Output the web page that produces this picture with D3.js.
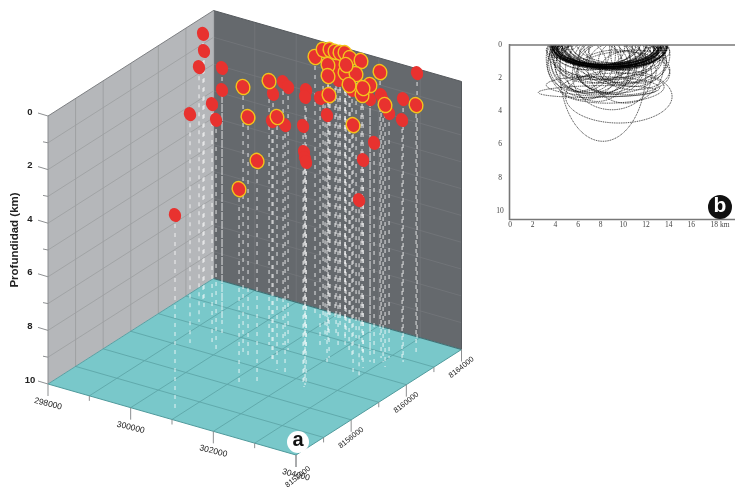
<!DOCTYPE html>
<html><head><meta charset="utf-8">
<script src="https://cdnjs.cloudflare.com/ajax/libs/d3/7.8.5/d3.min.js"></script>
<style>html,body{margin:0;padding:0;background:#fff}svg{display:block;filter:blur(.3px)}</style>
</head><body><svg id="c" width="738" height="489"></svg>
<script>
const eastTicks=[298000,299000,300000,301000,302000,303000,304000];
const eastLabels=["298000","300000","302000","304000"];
const northTicks=[8152000,8154000,8156000,8158000,8160000,8162000,8164000];
const northLabels=["8152000","8156000","8160000","8164000"];
const depthTicks=[0,1,2,3,4,5,6,7,8,9,10];
const depthLabels=["0","2","4","6","8","10"];
const evEast=[298389,298719,298898,299570,299177,299718,299297,299968,300854,300419,300659,300670,301129,300904,301118,301457,301165,301775,301438,301216,301419,301611,302338,302354,302318,302257,301573,301474,302012,302109,302911,303025,302842,303011,300730,302261,303010,303439,303353,303336,302880,303019,303183,303014,300812,300928,301064,301174,301284,301498,301734,301262,301524,301755,301939,302137,302615,302487,302423,301331,301939,302317,301822,302801,301474,301563];
const evNorth=[8162076,8161156,8160259,8159913,8161090,8158746,8158409,8158287,8152656,8158894,8158535,8160027,8158940,8160341,8160062,8158245,8158760,8157874,8156853,8156214,8160466,8159816,8157495,8157517,8157697,8157954,8161016,8161678,8160355,8159917,8159402,8160581,8160334,8159537,8163179,8163306,8163745,8162388,8161704,8161681,8161524,8161254,8160906,8161703,8163516,8163674,8163629,8163663,8163697,8163417,8163507,8162530,8161746,8162285,8162532,8161432,8160940,8161904,8161590,8163192,8161735,8161107,8161577,8160962,8162474,8162934];
const evDepth=[.07,.26,.49,.11,1.49,1.01,1.46,1.34,2.65,.11,1.01,.15,.07,.19,.19,.56,1.01,.6,1.75,2.69,.3,.26,.26,1.23,1.53,1.79,.71,.9,.19,.75,.6,1.6,2.24,3.4,.26,.19,.04,.6,.19,.97,.19,.22,.22,.86,.07,.07,.07,.07,.04,.04,.07,.11,.15,.11,.15,.11,.11,.11,.15,.11,.11,.11,.11,.19,.11,.11];
const evRing=[0,0,0,0,0,0,0,0,0,1,1,1,0,0,0,1,0,0,1,1,0,0,0,0,0,0,0,0,1,0,1,0,0,0,1,1,0,1,0,0,0,0,1,0,1,1,1,1,1,1,1,1,1,1,1,1,1,1,1,0,0,0,0,0,0,1];
const bTicksX=[0,2,4,6,8,10,12,14,16];
const bTicksY=[0,2,4,6,8,10];
const ellCx=[8.2,7.7,9.6,6.5,9.0,8.5,8.7,8.2,8.9,9.3,7.9,8.4,8.6,9.1,8.0,8.8,8.3,9.4,7.6,8.5,8.9,7.8,9.2,8.6,8.1,8.7,9.0,7.4,8.3,9.6,7.2,10.0,6.9,10.3,7.6,8.3,9.1,7.2,9.8,8.4,6.6,9.6,7.8,8.7,7.0,10.4,8.9,7.5,9.4,6.4,10.8,8.2,9.0,7.7,10.0,8.5,6.2,11.0,8.9,8.6,9.0,8.4,8.8,9.2,8.5,8.7,9.1,8.3,9.0,8.6,8.8,8.2,9.3,8.7,8.9,8.5,9.0,8.4,8.6,8.8,7.0,10.2,5.9,11.5,8.0,9.5];
const ellCy=[1.5,2.8,3.1,0.8,1.8,-.2,-.3,-.1,.0,-.4,-.2,.1,-.1,-.3,.0,.1,-.4,.0,-.1,.2,-.2,-.3,.1,.0,.2,-.1,.3,.0,-.2,-.1,.1,.0,.2,.1,.5,.7,.6,.8,.7,.9,1.0,.9,1.2,1.1,1.3,1.0,1.4,1.0,1.6,.6,1.0,2.5,2.6,1.5,1.7,.5,.3,1.5,.1,.0,.2,.1,.2,.0,.3,.1,.3,.0,.1,.2,.0,.3,.1,.4,.3,.4,.2,.4,.3,.5,1.0,1.1,1.2,.6,.3,.4];
const ellRx=[3.8,5.2,4.7,3.3,3.5,4.6,4.4,4.2,4.5,4.1,4.3,4.4,4.8,4.3,4.0,4.6,3.9,4.0,3.9,4.2,4.4,3.8,4.1,4.7,4.3,3.6,4.0,3.7,3.8,3.7,3.6,3.5,3.2,3.4,3.9,4.2,3.8,3.4,3.7,4.3,3.0,3.6,3.4,3.1,3.0,3.4,2.9,3.6,3.5,2.9,3.0,5.0,4.6,2.8,4.1,5.2,2.6,3.1,5.0,4.9,4.8,4.7,5.0,4.6,4.6,4.9,4.5,4.8,4.9,4.7,5.1,4.5,4.5,4.4,4.7,4.6,4.8,4.3,4.5,4.2,3.6,3.4,2.6,2.6,4.8,4.6];
const ellRy=[4.3,.35,1.6,2.5,2.1,1.4,1.6,1.3,1.3,1.7,1.5,1.1,1.3,1.6,1.2,1.2,1.6,1.2,1.3,1.0,1.4,1.5,1.0,1.2,.95,1.4,1.0,1.3,1.5,1.2,1.4,1.5,1.3,1.6,1.6,1.4,1.5,1.5,1.6,1.4,1.9,1.5,1.7,1.8,1.6,1.3,1.6,2.0,1.3,2.2,1.5,.6,.9,1.9,1.3,1.5,1.8,1.2,1.4,1.3,1.2,1.3,1.1,1.5,1.05,1.35,1.1,1.45,1.3,1.15,1.4,1.0,1.35,.95,1.1,.9,1.2,.95,1.0,.85,2.2,2.4,1.6,1.7,.8,.9];
const ellRot=[0,-1,0,0,0,0,0,0,0,0,0,0,0,0,0,0,0,0,0,0,0,0,0,0,0,0,0,0,0,0,0,0,0,0,0,0,0,0,0,0,0,0,0,0,0,0,0,0,0,0,0,1.5,-1.5,0,0,0,0,0,0,0,0,0,0,0,0,0,0,0,0,0,0,0,0,0,0,0,0,0,0,0,0,0,0,0,0,0];

const svg=d3.select("#c");
const fE=d3.scaleLinear().domain([298000,304000]).range([0,1]);
const fN=d3.scaleLinear().domain([8152000,8164000]).range([0,1]);
const fD=d3.scaleLinear().domain([0,10]).range([116,384]);
const P=(e,n,d)=>{const a=fE(e),b=fN(n);return [48+248*a+165.5*b, fD(d)+71*a-105.5*b];};
const e0=298000,e1=304000,n0=8152000,n1=8164000;
const poly=(pts,fill)=>svg.append("polygon").attr("points",pts.map(p=>p.join(",")).join(" ")).attr("fill",fill);
const seg=(a,b,col,w)=>svg.append("line").attr("x1",a[0]).attr("y1",a[1]).attr("x2",b[0]).attr("y2",b[1]).attr("stroke",col).attr("stroke-width",w);
poly([P(e0,n0,0),P(e0,n1,0),P(e0,n1,10),P(e0,n0,10)],"#b5b7ba");
poly([P(e0,n1,0),P(e1,n1,0),P(e1,n1,10),P(e0,n1,10)],"#65696d");
poly([P(e0,n0,10),P(e1,n0,10),P(e1,n1,10),P(e0,n1,10)],"#79c8ca");
depthTicks.slice(1,-1).forEach(d=>{seg(P(e0,n0,d),P(e0,n1,d),"#9c9ea0",.8);seg(P(e0,n1,d),P(e1,n1,d),"#75797d",.7);});
northTicks.slice(1,-1).forEach(n=>{seg(P(e0,n,0),P(e0,n,10),"#9c9ea0",.9);seg(P(e0,n,10),P(e1,n,10),"#5ea6a8",.9);});
eastTicks.slice(1,-1).forEach(e=>{seg(P(e,n1,0),P(e,n1,10),"#75797d",.7);seg(P(e,n0,10),P(e,n1,10),"#5ea6a8",.9);});
seg(P(e0,n1,0),P(e0,n1,10),"#a9abae",1.2);
seg(P(e0,n0,0),P(e0,n1,0),"#7d7f82",1);
seg(P(e0,n1,0),P(e1,n1,0),"#55595d",1);
seg(P(e0,n0,0),P(e0,n0,10),"#8a8c8f",1);
seg(P(e1,n1,0),P(e1,n1,10),"#55595d",1);
seg(P(e0,n0,10),P(e1,n0,10),"#4f9a9c",1);
seg(P(e1,n0,10),P(e1,n1,10),"#4f9a9c",1);
seg(P(e0,n1,10),P(e1,n1,10),"#3f6f73",1.2);
seg(P(e0,n0,10),P(e0,n1,10),"#5a9fa2",1);
evEast.forEach((e,i)=>{seg(P(e,evNorth[i],evDepth[i]),P(e,evNorth[i],10),"#ffffff",1.3).attr("stroke-dasharray","4 5").attr("opacity",.62);});
const order=d3.range(evEast.length).sort((a,b)=>evRing[a]-evRing[b]||a-b);
order.forEach(i=>{const p=P(evEast[i],evNorth[i],evDepth[i]);
 svg.append("ellipse").attr("cx",p[0]).attr("cy",p[1]).attr("rx",evRing[i]?6.7:6).attr("ry",evRing[i]?7.7:7.2)
 .attr("transform",`rotate(-22 ${p[0]} ${p[1]})`).attr("fill","#e8322f")
 .attr("stroke",evRing[i]?"#f3c31c":"none").attr("stroke-width",1.4);});
const txt=(x,y,s,size,rot)=>{const t=svg.append("text").attr("x",x).attr("y",y).attr("text-anchor","middle").attr("dominant-baseline","middle")
 .attr("font-family","Liberation Sans").attr("font-size",size).attr("fill","#222").text(s);
 if(rot)t.attr("transform",`rotate(${rot} ${x} ${y})`);return t;};
eastTicks.forEach((e,i)=>{const p=P(e,n0,10);const L=i%2==0;seg(p,[p[0],p[1]+(L?12:5)],"#8d8f91",1);
 if(L)txt(p[0],p[1]+20,eastLabels[i/2],8.5,14);});
northTicks.forEach((n,i)=>{const p=P(e1,n,10);const L=i%2==0;seg(p,[p[0],p[1]+(L?12:5)],"#8d8f91",1);
 if(L)txt(p[0]+(i==0?2:0),p[1]+(i==0?22:18),northLabels[i/2],7.6,-38);});
depthTicks.forEach((d,i)=>{const p=P(e0,n0,d);const L=i%2==0;seg(p,[p[0]-(L?10:5),p[1]-(L?3:1)],"#8d8f91",1);
 if(L)txt(p[0]-18,p[1]-4,depthLabels[i/2],9.5).attr("font-weight","bold");});
txt(15,240,"Profundidad (km)",11.5,-90).attr("font-weight","bold");
svg.append("circle").attr("cx",298).attr("cy",442).attr("r",11).attr("fill","#fff");
txt(298,441,"a",20).attr("font-weight","bold").attr("fill","#111");
const bx=d3.scaleLinear().domain([0,18]).range([510,714]);
const by=d3.scaleLinear().domain([0,10]).range([45,211]);
svg.append("defs").append("clipPath").attr("id","bc").append("rect").attr("x",510).attr("y",45).attr("width",224).attr("height",174);
const gb=svg.append("g").attr("clip-path","url(#bc)");
ellCx.forEach((c,i)=>{const cx=bx(c),cy=by(ellCy[i]);
 gb.append("ellipse").attr("cx",cx).attr("cy",cy).attr("rx",bx(ellRx[i])-bx(0)).attr("ry",by(ellRy[i])-by(0))
 .attr("transform",`rotate(${ellRot[i]} ${cx} ${cy})`).attr("fill","none").attr("stroke","#000").attr("stroke-width",.8).attr("stroke-dasharray","1 0.8");});
seg([509,45],[735,45],"#777",1.6);seg([509.5,44],[509.5,220],"#777",1.6);seg([509,219.5],[735,219.5],"#777",1.6);
const serif=(x,y,s)=>txt(x,y,s,7.5).attr("font-family","Liberation Serif").attr("fill","#444");
bTicksX.forEach(v=>serif(bx(v),225,String(v)));
serif(bx(18)+6,225,"18 km");
bTicksY.forEach(v=>serif(500,by(v),String(v)));
svg.append("circle").attr("cx",720).attr("cy",207).attr("r",12).attr("fill","#111");
txt(720,206,"b",21).attr("font-weight","bold").attr("fill","#fff");
</script></body></html>
